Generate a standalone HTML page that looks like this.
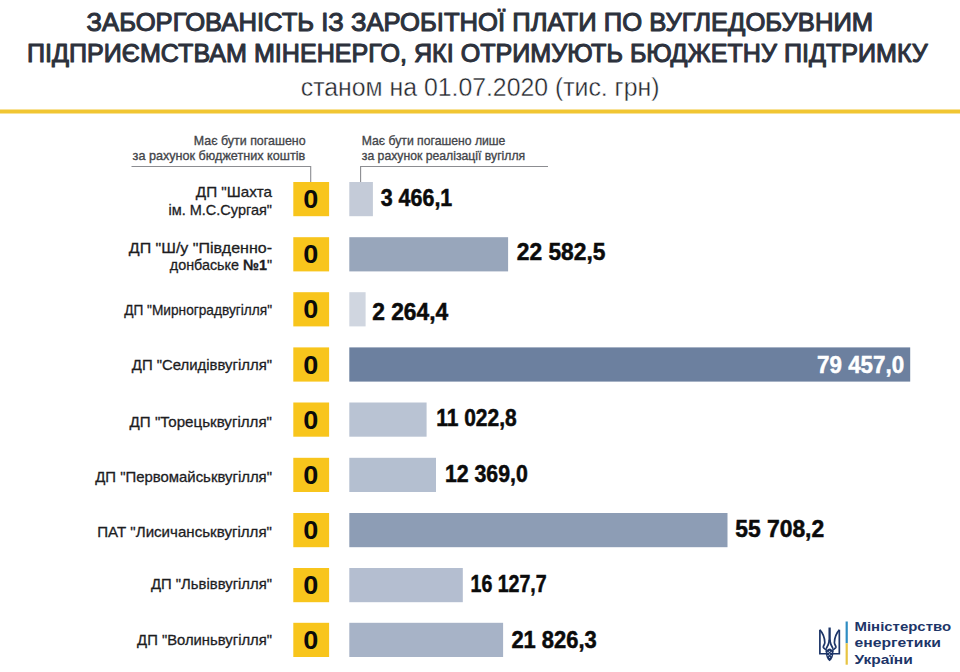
<!DOCTYPE html>
<html lang="uk">
<head>
<meta charset="utf-8">
<title>Заборгованість із заробітної плати по вугледобувним підприємствам Міненерго</title>
<style>
html,body{margin:0;padding:0;background:#fff;}
body{width:960px;height:672px;overflow:hidden;}
svg{display:block;}
text{white-space:pre;}
</style>
</head>
<body>
<svg width="960" height="672" viewBox="0 0 960 672">
<rect x="0" y="0" width="960" height="672" fill="#ffffff"/>
<text x="86.6" y="30.5" font-family='"Liberation Sans", "DejaVu Sans", sans-serif' font-size="25" font-weight="normal" fill="#2c313c" text-anchor="start" textLength="786.6" lengthAdjust="spacingAndGlyphs" stroke="#2c313c" stroke-width="1.05" stroke-linejoin="round">ЗАБОРГОВАНІСТЬ ІЗ ЗАРОБІТНОЇ ПЛАТИ ПО ВУГЛЕДОБУВНИМ</text>
<text x="27.0" y="62.2" font-family='"Liberation Sans", "DejaVu Sans", sans-serif' font-size="25" font-weight="normal" fill="#2c313c" text-anchor="start" textLength="900.8" lengthAdjust="spacingAndGlyphs" stroke="#2c313c" stroke-width="1.05" stroke-linejoin="round">ПІДПРИЄМСТВАМ МІНЕНЕРГО, ЯКІ ОТРИМУЮТЬ БЮДЖЕТНУ ПІДТРИМКУ</text>
<text x="300.8" y="95.6" font-family='"Liberation Sans", "DejaVu Sans", sans-serif' font-size="26" font-weight="normal" fill="#23262c" text-anchor="start" textLength="358.6" lengthAdjust="spacingAndGlyphs" stroke="#ffffff" stroke-width="0.4">станом на 01.07.2020 (тис. грн)</text>
<rect x="0" y="109.5" width="960" height="4" fill="#f1c633"/>
<text x="193.8" y="144.5" font-family='"Liberation Sans", "DejaVu Sans", sans-serif' font-size="13.6" font-weight="normal" fill="#43454a" text-anchor="start" textLength="111.8" lengthAdjust="spacingAndGlyphs" stroke="#43454a" stroke-width="0.35">Має бути погашено</text>
<text x="132.6" y="159.8" font-family='"Liberation Sans", "DejaVu Sans", sans-serif' font-size="13.6" font-weight="normal" fill="#43454a" text-anchor="start" textLength="172.6" lengthAdjust="spacingAndGlyphs" stroke="#43454a" stroke-width="0.35">за рахунок бюджетних коштів</text>
<text x="361.8" y="144.5" font-family='"Liberation Sans", "DejaVu Sans", sans-serif' font-size="13.6" font-weight="normal" fill="#43454a" text-anchor="start" textLength="143.6" lengthAdjust="spacingAndGlyphs" stroke="#43454a" stroke-width="0.35">Має бути погашено лише</text>
<text x="361.8" y="159.8" font-family='"Liberation Sans", "DejaVu Sans", sans-serif' font-size="13.6" font-weight="normal" fill="#43454a" text-anchor="start" textLength="163.4" lengthAdjust="spacingAndGlyphs" stroke="#43454a" stroke-width="0.35">за рахунок реалізації вугілля</text>
<path d="M131.5 166.5 H310.7 V182" fill="none" stroke="#8c8d91" stroke-width="1.1"/>
<path d="M548 166.5 H360.6 V182" fill="none" stroke="#8c8d91" stroke-width="1.1"/>
<rect x="293.3" y="182.0" width="35.8" height="34.2" fill="#f8c51c"/>
<text x="0" y="0" font-family='"Liberation Sans", "DejaVu Sans", sans-serif' font-size="25" font-weight="bold" fill="#0b0b0b" text-anchor="middle" transform="translate(310.8 208.2) scale(1.08 1)">0</text>
<rect x="349.3" y="182.0" width="23.6" height="34.2" fill="#c4cbd8"/>
<text x="380.7" y="206.4" font-family='"Liberation Sans", "DejaVu Sans", sans-serif' font-size="23.4" font-weight="bold" fill="#0b0b0b" text-anchor="start" textLength="71.6" lengthAdjust="spacingAndGlyphs" stroke="#0b0b0b" stroke-width="0.5">3 466,1</text>
<text x="195.8" y="196.5" font-family='"Liberation Sans", "DejaVu Sans", sans-serif' font-size="15" font-weight="normal" fill="#1d1d1f" text-anchor="start" textLength="76.2" lengthAdjust="spacingAndGlyphs" stroke="#1d1d1f" stroke-width="0.3">ДП &quot;Шахта</text>
<text x="168.5" y="215.0" font-family='"Liberation Sans", "DejaVu Sans", sans-serif' font-size="15" font-weight="normal" fill="#1d1d1f" text-anchor="start" textLength="103.5" lengthAdjust="spacingAndGlyphs" stroke="#1d1d1f" stroke-width="0.3">ім. М.С.Сургая&quot;</text>
<rect x="293.3" y="237.2" width="35.8" height="34.2" fill="#f8c51c"/>
<text x="0" y="0" font-family='"Liberation Sans", "DejaVu Sans", sans-serif' font-size="25" font-weight="bold" fill="#0b0b0b" text-anchor="middle" transform="translate(310.8 263.4) scale(1.08 1)">0</text>
<rect x="349.3" y="237.2" width="158.8" height="34.2" fill="#98a6bb"/>
<text x="516.8000000000001" y="260.20000000000005" font-family='"Liberation Sans", "DejaVu Sans", sans-serif' font-size="23.4" font-weight="bold" fill="#0b0b0b" text-anchor="start" textLength="88.6" lengthAdjust="spacingAndGlyphs" stroke="#0b0b0b" stroke-width="0.5">22 582,5</text>
<text x="128.8" y="253.4" font-family='"Liberation Sans", "DejaVu Sans", sans-serif' font-size="15" font-weight="normal" fill="#1d1d1f" text-anchor="start" textLength="143.2" lengthAdjust="spacingAndGlyphs" stroke="#1d1d1f" stroke-width="0.3">ДП &quot;Ш/у &quot;Південно-</text>
<text x="169.8" y="270.4" font-family='"Liberation Sans", "DejaVu Sans", sans-serif' font-size="15" font-weight="normal" fill="#1d1d1f" text-anchor="start" textLength="102.2" lengthAdjust="spacingAndGlyphs" stroke="#1d1d1f" stroke-width="0.3">донбаське <tspan font-weight="bold">№1</tspan>&quot;</text>
<rect x="293.3" y="292.2" width="35.8" height="34.2" fill="#f8c51c"/>
<text x="0" y="0" font-family='"Liberation Sans", "DejaVu Sans", sans-serif' font-size="25" font-weight="bold" fill="#0b0b0b" text-anchor="middle" transform="translate(310.8 318.4) scale(1.08 1)">0</text>
<rect x="349.3" y="292.2" width="16.3" height="34.2" fill="#d0d6e0"/>
<text x="372.2" y="319.6" font-family='"Liberation Sans", "DejaVu Sans", sans-serif' font-size="23.4" font-weight="bold" fill="#0b0b0b" text-anchor="start" textLength="76.0" lengthAdjust="spacingAndGlyphs" stroke="#0b0b0b" stroke-width="0.5">2 264,4</text>
<text x="124.2" y="314.6" font-family='"Liberation Sans", "DejaVu Sans", sans-serif' font-size="15" font-weight="normal" fill="#1d1d1f" text-anchor="start" textLength="147.8" lengthAdjust="spacingAndGlyphs" stroke="#1d1d1f" stroke-width="0.3">ДП &quot;Мирноградвугілля&quot;</text>
<rect x="293.3" y="347.4" width="35.8" height="34.2" fill="#f8c51c"/>
<text x="0" y="0" font-family='"Liberation Sans", "DejaVu Sans", sans-serif' font-size="25" font-weight="bold" fill="#0b0b0b" text-anchor="middle" transform="translate(310.8 373.6) scale(1.08 1)">0</text>
<rect x="349.3" y="347.4" width="560.9" height="34.2" fill="#6c809f"/>
<text x="817.1" y="372.8" font-family='"Liberation Sans", "DejaVu Sans", sans-serif' font-size="23.4" font-weight="bold" fill="#ffffff" text-anchor="start" textLength="87.0" lengthAdjust="spacingAndGlyphs" stroke="#ffffff" stroke-width="0.5">79 457,0</text>
<text x="131.8" y="369.8" font-family='"Liberation Sans", "DejaVu Sans", sans-serif' font-size="15" font-weight="normal" fill="#1d1d1f" text-anchor="start" textLength="140.2" lengthAdjust="spacingAndGlyphs" stroke="#1d1d1f" stroke-width="0.3">ДП &quot;Селидіввугілля&quot;</text>
<rect x="293.3" y="402.5" width="35.8" height="34.2" fill="#f8c51c"/>
<text x="0" y="0" font-family='"Liberation Sans", "DejaVu Sans", sans-serif' font-size="25" font-weight="bold" fill="#0b0b0b" text-anchor="middle" transform="translate(310.8 428.7) scale(1.08 1)">0</text>
<rect x="349.3" y="402.5" width="77.3" height="34.2" fill="#b9c3d3"/>
<text x="436.2" y="426.20000000000005" font-family='"Liberation Sans", "DejaVu Sans", sans-serif' font-size="23.4" font-weight="bold" fill="#0b0b0b" text-anchor="start" textLength="80.5" lengthAdjust="spacingAndGlyphs" stroke="#0b0b0b" stroke-width="0.5">11 022,8</text>
<text x="129.6" y="427.2" font-family='"Liberation Sans", "DejaVu Sans", sans-serif' font-size="15" font-weight="normal" fill="#1d1d1f" text-anchor="start" textLength="142.4" lengthAdjust="spacingAndGlyphs" stroke="#1d1d1f" stroke-width="0.3">ДП &quot;Торецьквугілля&quot;</text>
<rect x="293.3" y="457.8" width="35.8" height="34.2" fill="#f8c51c"/>
<text x="0" y="0" font-family='"Liberation Sans", "DejaVu Sans", sans-serif' font-size="25" font-weight="bold" fill="#0b0b0b" text-anchor="middle" transform="translate(310.8 484.0) scale(1.08 1)">0</text>
<rect x="349.3" y="457.8" width="86.7" height="34.2" fill="#b4bfd0"/>
<text x="444.9" y="482.0" font-family='"Liberation Sans", "DejaVu Sans", sans-serif' font-size="23.4" font-weight="bold" fill="#0b0b0b" text-anchor="start" textLength="82.9" lengthAdjust="spacingAndGlyphs" stroke="#0b0b0b" stroke-width="0.5">12 369,0</text>
<text x="95.2" y="482.4" font-family='"Liberation Sans", "DejaVu Sans", sans-serif' font-size="15" font-weight="normal" fill="#1d1d1f" text-anchor="start" textLength="176.8" lengthAdjust="spacingAndGlyphs" stroke="#1d1d1f" stroke-width="0.3">ДП &quot;Первомайськвугілля&quot;</text>
<rect x="293.3" y="513.0" width="35.8" height="34.2" fill="#f8c51c"/>
<text x="0" y="0" font-family='"Liberation Sans", "DejaVu Sans", sans-serif' font-size="25" font-weight="bold" fill="#0b0b0b" text-anchor="middle" transform="translate(310.8 539.2) scale(1.08 1)">0</text>
<rect x="349.3" y="513.0" width="378.2" height="34.2" fill="#8d9db5"/>
<text x="735.2" y="536.6" font-family='"Liberation Sans", "DejaVu Sans", sans-serif' font-size="23.4" font-weight="bold" fill="#0b0b0b" text-anchor="start" textLength="89.0" lengthAdjust="spacingAndGlyphs" stroke="#0b0b0b" stroke-width="0.5">55 708,2</text>
<text x="97.2" y="537.4" font-family='"Liberation Sans", "DejaVu Sans", sans-serif' font-size="15" font-weight="normal" fill="#1d1d1f" text-anchor="start" textLength="174.8" lengthAdjust="spacingAndGlyphs" stroke="#1d1d1f" stroke-width="0.3">ПАТ &quot;Лисичанськвугілля&quot;</text>
<rect x="293.3" y="568.0" width="35.8" height="34.2" fill="#f8c51c"/>
<text x="0" y="0" font-family='"Liberation Sans", "DejaVu Sans", sans-serif' font-size="25" font-weight="bold" fill="#0b0b0b" text-anchor="middle" transform="translate(310.8 594.2) scale(1.08 1)">0</text>
<rect x="349.3" y="568.0" width="113.5" height="34.2" fill="#b4bed0"/>
<text x="470.5" y="592.2" font-family='"Liberation Sans", "DejaVu Sans", sans-serif' font-size="23.4" font-weight="bold" fill="#0b0b0b" text-anchor="start" textLength="76.2" lengthAdjust="spacingAndGlyphs" stroke="#0b0b0b" stroke-width="0.5">16 127,7</text>
<text x="151.0" y="588.7" font-family='"Liberation Sans", "DejaVu Sans", sans-serif' font-size="15" font-weight="normal" fill="#1d1d1f" text-anchor="start" textLength="121.0" lengthAdjust="spacingAndGlyphs" stroke="#1d1d1f" stroke-width="0.3">ДП &quot;Львіввугілля&quot;</text>
<rect x="293.3" y="622.8" width="35.8" height="34.2" fill="#f8c51c"/>
<text x="0" y="0" font-family='"Liberation Sans", "DejaVu Sans", sans-serif' font-size="25" font-weight="bold" fill="#0b0b0b" text-anchor="middle" transform="translate(310.8 649.0) scale(1.08 1)">0</text>
<rect x="349.3" y="622.8" width="153.8" height="34.2" fill="#a7b3c7"/>
<text x="511.4" y="648.4" font-family='"Liberation Sans", "DejaVu Sans", sans-serif' font-size="23.4" font-weight="bold" fill="#0b0b0b" text-anchor="start" textLength="85.3" lengthAdjust="spacingAndGlyphs" stroke="#0b0b0b" stroke-width="0.5">21 826,3</text>
<text x="137.1" y="644.9" font-family='"Liberation Sans", "DejaVu Sans", sans-serif' font-size="15" font-weight="normal" fill="#1d1d1f" text-anchor="start" textLength="134.9" lengthAdjust="spacingAndGlyphs" stroke="#1d1d1f" stroke-width="0.3">ДП &quot;Волиньвугілля&quot;</text>
<rect x="845.6" y="621.5" width="2.2" height="21.8" fill="#2f8dc2"/>
<rect x="845.6" y="643.3" width="2.2" height="21.4" fill="#e7c443"/>
<text x="854.5" y="631.2" font-family='"Liberation Sans", "DejaVu Sans", sans-serif' font-size="13" font-weight="bold" fill="#1d3568" text-anchor="start" textLength="96.6" lengthAdjust="spacingAndGlyphs">Міністерство</text>
<text x="854.5" y="647.4" font-family='"Liberation Sans", "DejaVu Sans", sans-serif' font-size="13" font-weight="bold" fill="#1d3568" text-anchor="start" textLength="86.4" lengthAdjust="spacingAndGlyphs">енергетики</text>
<text x="854.5" y="663.8" font-family='"Liberation Sans", "DejaVu Sans", sans-serif' font-size="13" font-weight="bold" fill="#1d3568" text-anchor="start" textLength="58.2" lengthAdjust="spacingAndGlyphs">України</text>
<g id="tryzub" fill="none" stroke="#1d3568" stroke-width="1.7" stroke-linejoin="miter" stroke-linecap="butt"><path d="M 819.89 629.76 L 819.89 653.74 L 826.59 653.74"/><path d="M 819.89 629.91 C 822.57 632.89 824.66 637.96 824.81 642.57 C 824.81 644.81 823.17 645.70 823.32 647.19 C 823.62 648.53 825.70 648.98 826.89 650.76"/><path d="M 829.61 639.74 C 828.83 643.69 827.49 646.89 826.15 648.83"/><path d="M 839.33 629.76 L 839.33 653.74 L 832.63 653.74"/><path d="M 839.33 629.91 C 836.65 632.89 834.56 637.96 834.41 642.57 C 834.41 644.81 836.05 645.70 835.90 647.19 C 835.60 648.53 833.52 648.98 832.33 650.76"/><path d="M 829.61 639.74 C 830.39 643.69 831.73 646.89 833.07 648.83"/><path d="M 829.61 627.53 L 829.61 641.68" stroke-width="2.3" stroke-linecap="butt"/><path d="M 825.70 651.21 C 825.70 656.35 827.19 659.70 829.61 661.26 C 832.03 659.70 833.52 656.35 833.52 651.21 C 832.40 649.57 830.91 648.68 829.61 648.38 C 828.31 648.68 826.82 649.57 825.70 651.21 Z" fill="#1d3568" stroke="none"/><circle cx="828.01" cy="652.40" r="0.62" fill="#dfe6f2" stroke="none"/><circle cx="831.21" cy="652.40" r="0.62" fill="#dfe6f2" stroke="none"/><circle cx="829.61" cy="651.36" r="0.62" fill="#dfe6f2" stroke="none"/><circle cx="828.01" cy="655.60" r="0.62" fill="#dfe6f2" stroke="none"/><circle cx="831.21" cy="655.60" r="0.62" fill="#dfe6f2" stroke="none"/><circle cx="829.61" cy="654.04" r="0.62" fill="#dfe6f2" stroke="none"/><circle cx="829.61" cy="657.31" r="0.62" fill="#dfe6f2" stroke="none"/></g>
</svg>
</body>
</html>
